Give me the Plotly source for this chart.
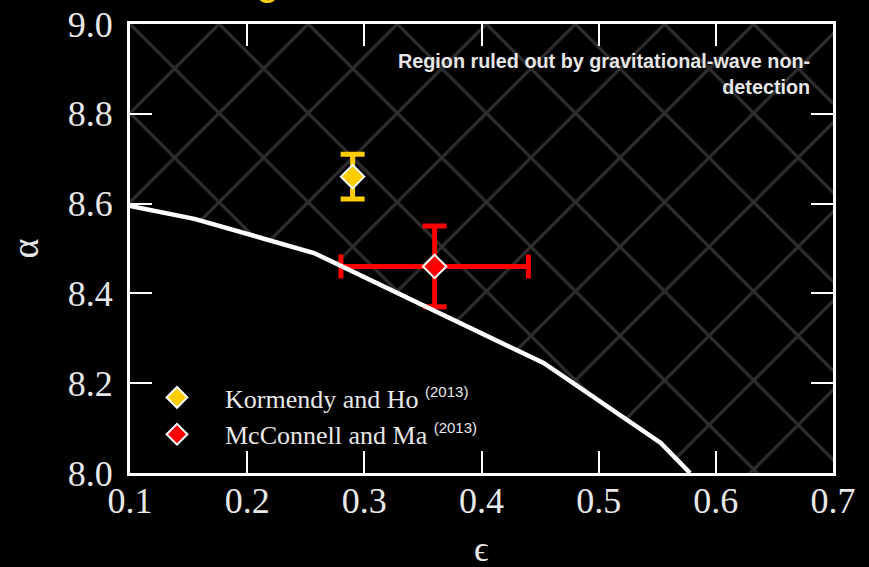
import plotly.graph_objects as go

# ---- data ----
curve_eps = [0.100, 0.155, 0.257, 0.453, 0.553, 0.578]
curve_alpha = [8.595, 8.566, 8.490, 8.245, 8.067, 8.000]

x_range = [0.1, 0.7]
y_range = [8.0, 9.0]

kh_eps = [0.29]
kh_alpha = [8.66]
kh_alpha_err = [0.05]

mm_eps = [0.36]
mm_alpha = [8.46]
mm_alpha_err = [0.09]
mm_eps_err = [0.08]

x_ticks = [0.1, 0.2, 0.3, 0.4, 0.5, 0.6, 0.7]
y_ticks = [8.0, 8.2, 8.4, 8.6, 8.8, 9.0]

SERIF = "Liberation Serif"
SANS = "Liberation Sans"
TXT = "#e8e8e8"

fig = go.Figure()

# hatched ruled-out region (above the curve)
region_x = curve_eps + [x_range[1], x_range[1], x_range[0]]
region_y = curve_alpha + [y_range[0], y_range[1], y_range[1]]
fig.add_trace(go.Scatter(
    x=region_x, y=region_y, mode="lines", fill="toself",
    fillcolor="black", line=dict(width=0, color="rgba(0,0,0,0)"),
    fillpattern=dict(shape="x", size=63, solidity=0.10,
                     fgcolor="#2e2e2e", bgcolor="black", fillmode="replace"),
    showlegend=False, hoverinfo="skip"))

sup = '<span style="font-family:Liberation Sans;font-size:15px">(2013)</span>'

fig.add_trace(go.Scatter(
    x=kh_eps, y=kh_alpha, mode="markers",
    name="Kormendy and Ho <sup>" + sup + "</sup>",
    marker=dict(symbol="diamond", size=18, color="#ffcc00",
                line=dict(color="white", width=2)),
    error_y=dict(type="data", array=kh_alpha_err, color="#ffcc00",
                 thickness=5, width=12)))

fig.add_trace(go.Scatter(
    x=mm_eps, y=mm_alpha, mode="markers",
    name="McConnell and Ma <sup>" + sup + "</sup>",
    marker=dict(symbol="diamond", size=18, color="#ff0000",
                line=dict(color="white", width=2)),
    error_y=dict(type="data", array=mm_alpha_err, color="#ff0000",
                 thickness=5, width=12),
    error_x=dict(type="data", array=mm_eps_err, color="#ff0000",
                 thickness=5, width=12)))

fig.add_trace(go.Scatter(
    x=curve_eps, y=curve_alpha, mode="lines",
    line=dict(color="white", width=4.5),
    showlegend=False, hoverinfo="skip"))

axis_common = dict(
    showline=True, linecolor="white", linewidth=3, mirror="ticks",
    ticks="inside", ticklen=22, tickwidth=2, tickcolor="white",
    showgrid=False, zeroline=False,
    tickfont=dict(family=SERIF, size=36, color=TXT),
)

fig.update_xaxes(range=x_range, tickvals=x_ticks,
                 ticktext=[f"{v:.1f}" for v in x_ticks],
                 ticklabelstandoff=-6,
                 **axis_common)
fig.update_yaxes(range=y_range, tickvals=y_ticks,
                 ticktext=[f"{v:.1f}" for v in y_ticks],
                 ticklabelstandoff=7,
                 title=dict(text="α", font=dict(family=SERIF, size=38, color=TXT),
                            standoff=18),
                 **axis_common)

# x-axis title (placed low, near the bottom edge as in the reference)
fig.add_annotation(
    xref="paper", yref="paper", x=0.5, y=(473 - 549) / 449,
    xanchor="center", yanchor="middle", showarrow=False,
    text="ϵ", font=dict(family=SERIF, size=36, color=TXT))

fig.add_annotation(
    xref="paper", yref="paper", x=(812 - 130) / 703, y=(473 - 48) / 449,
    xanchor="right", yanchor="top", align="right", showarrow=False,
    text="<b>Region ruled out by gravitational-wave non-<br>detection</b>",
    font=dict(family=SANS, size=19.8, color="#e6e6e6"))

fig.add_annotation(
    xref="paper", yref="paper", x=(267 - 130) / 703, y=(473 + 21) / 449,
    xanchor="center", yanchor="middle", showarrow=False,
    text="g", font=dict(family=SANS, size=42, color="#f5d20f"))

fig.update_layout(
    width=869, height=567,
    margin=dict(l=130, r=36, t=24, b=94, autoexpand=False),
    paper_bgcolor="black", plot_bgcolor="black",
    showlegend=True,
    legend=dict(x=(129 - 130) / 703, y=(473 - 374) / 449,
                xanchor="left", yanchor="top",
                bgcolor="rgba(0,0,0,0)",
                font=dict(family=SERIF, size=26, color=TXT),
                itemwidth=86, tracegroupgap=0),
)

fig.write_html("out.html")
